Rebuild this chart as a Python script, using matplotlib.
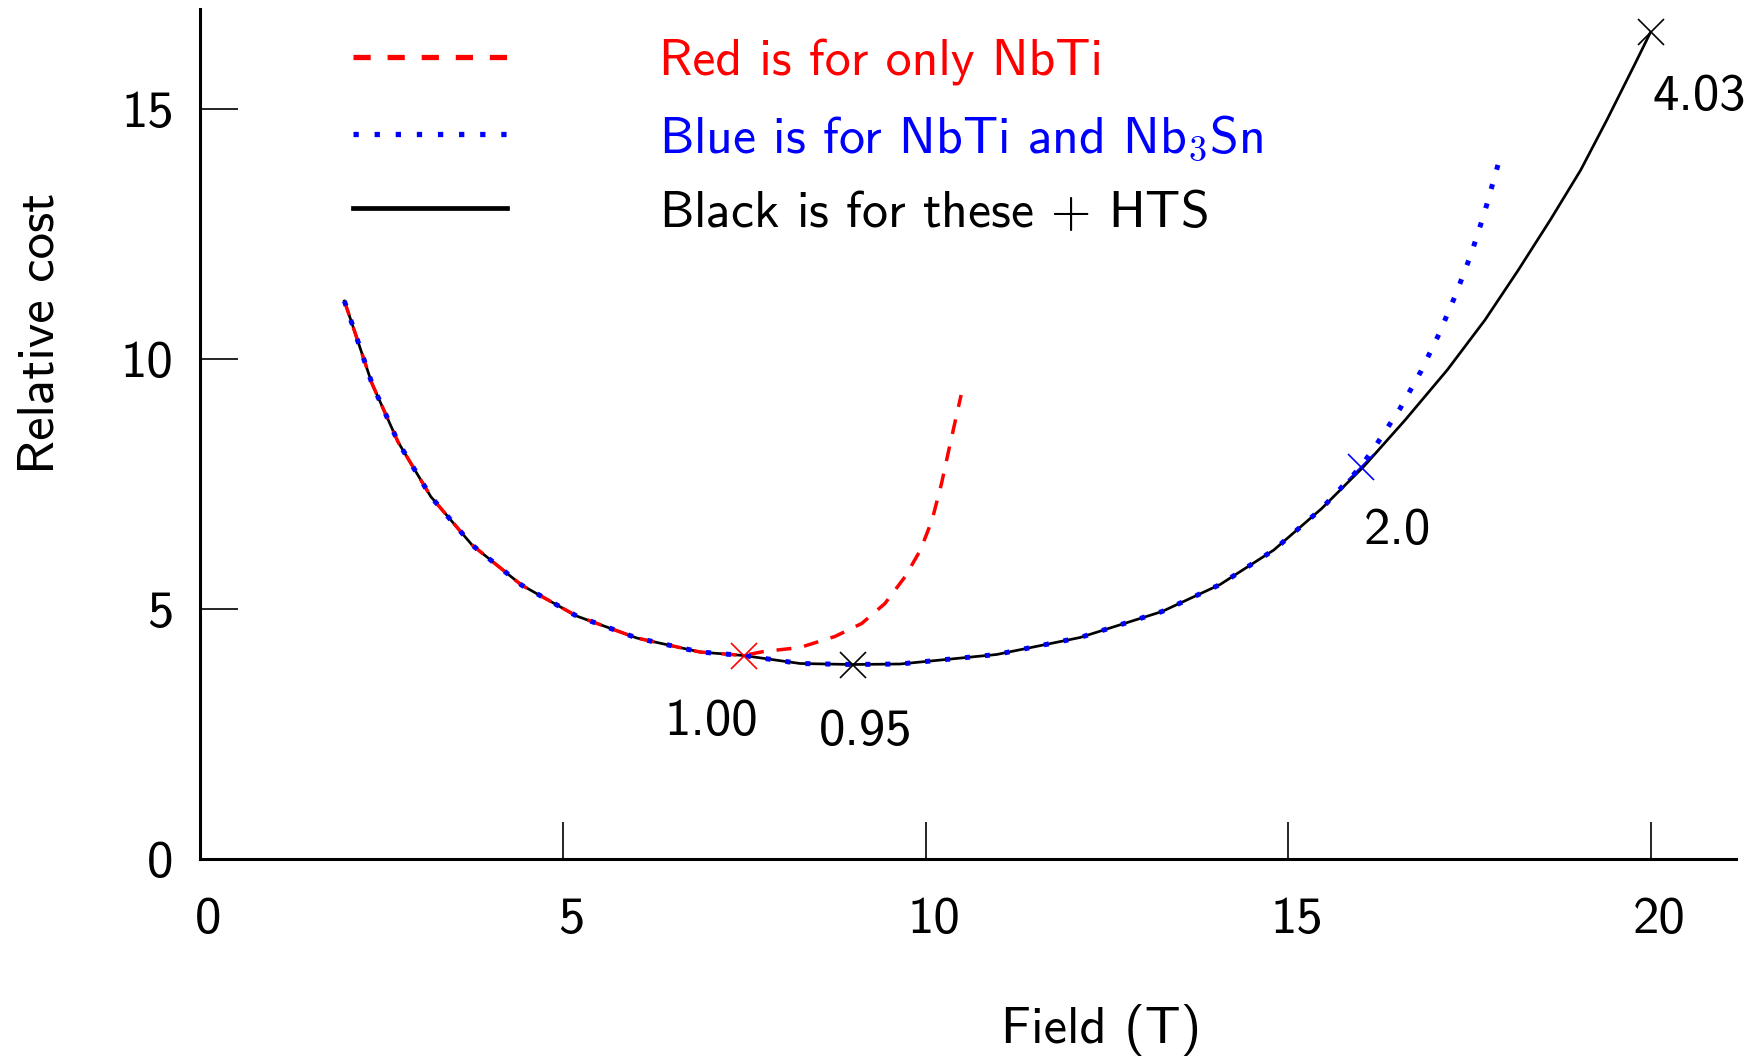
import matplotlib
matplotlib.use('Agg')
import matplotlib.pyplot as plt
import matplotlib.transforms as mtransforms
from matplotlib.lines import Line2D

plt.rcParams['font.family'] = 'cmss10'
plt.rcParams['mathtext.fontset'] = 'cm'
plt.rcParams['axes.unicode_minus'] = False

# values (field in T, relative cost)
black_x = [1.99, 2.09, 2.37, 2.73, 3.18, 3.75, 4.43, 5.19, 6.02, 6.89, 7.49,
           8.27, 8.99, 9.65, 10.98, 12.13, 13.26, 14.06, 14.80, 15.46, 16.04,
           16.61, 17.19, 17.71, 18.17, 18.61, 19.03, 19.39, 19.78, 19.99]
black_y = [11.16, 10.73, 9.51, 8.34, 7.25, 6.28, 5.48, 4.86, 4.42, 4.14, 4.07,
           3.91, 3.89, 3.90, 4.09, 4.43, 4.95, 5.49, 6.18, 7.01, 7.85,
           8.78, 9.78, 10.78, 11.78, 12.78, 13.78, 14.78, 15.91, 16.53]

red_x = [1.99, 2.09, 2.37, 2.73, 3.18, 3.75, 4.43, 5.19, 6.02, 6.89, 7.49,
         7.77, 8.27, 8.75, 9.12, 9.44, 9.72, 9.93, 10.09, 10.22, 10.34, 10.49]
red_y = [11.16, 10.73, 9.51, 8.34, 7.25, 6.28, 5.48, 4.86, 4.42, 4.14, 4.07,
         4.15, 4.23, 4.45, 4.71, 5.11, 5.65, 6.18, 6.78, 7.51, 8.31, 9.28]

blue_x = [1.99, 2.09, 2.37, 2.73, 3.18, 3.75, 4.43, 5.19, 6.02, 6.89, 7.49,
          8.27, 8.99, 9.65, 10.98, 12.13, 13.26, 14.06, 14.80, 15.46, 15.99,
          16.22, 16.54, 16.83, 17.08, 17.31, 17.52, 17.70, 17.86, 17.94]
blue_y = [11.16, 10.73, 9.51, 8.34, 7.25, 6.28, 5.48, 4.86, 4.42, 4.14, 4.07,
          3.91, 3.89, 3.90, 4.09, 4.43, 4.95, 5.49, 6.18, 7.01, 7.83,
          8.30, 9.01, 9.76, 10.51, 11.30, 12.10, 12.91, 13.73, 14.15]

# optimum points and their labels
opt_x = [7.5, 9.0, 16.0, 20.0]
opt_y = [4.07, 3.89, 7.85, 16.55]
opt_colors = ['red', 'black', 'blue', 'black']
opt_text = ['1.00', '0.95', '2.0', '4.03']
text_x = [7.05, 9.18, 16.50, 20.67]
text_y = [2.49, 2.27, 6.30, 14.98]

legend_labels = ['Red is for only NbTi',
                 'Blue is for NbTi and Nb$_3$Sn',
                 'Black is for these $+$ HTS']

x_ticks = [0, 5, 10, 15, 20]
y_ticks = [0, 5, 10, 15]

FS = 38
LEG_FS = 37.3

fig = plt.figure(figsize=(17.58, 10.58), dpi=100)
ax = fig.add_axes([200 / 1758, 199 / 1058, 1536 / 1758, 850 / 1058])

ax.plot(black_x, black_y, color='black', lw=1.95, zorder=2)
ax.plot(red_x, red_y, color='red', lw=2.5, ls=(0, (4.3, 3.7)), zorder=3)
ax.plot(blue_x, blue_y, color='blue', lw=3.6, ls=(0, (1, 3)), zorder=4)

for x, y, c in zip(opt_x, opt_y, opt_colors):
    ax.plot([x], [y], marker='x', ms=19, mew=1.2, color=c, zorder=5)
for x, y, t in zip(text_x, text_y, opt_text):
    ax.text(x, y, t, fontsize=FS, ha='center', va='baseline')

ax.set_xlim(0, 21.17)
ax.set_ylim(0, 17.0)
ax.set_xticks(x_ticks)
ax.set_yticks(y_ticks)
ax.tick_params(direction='in', length=27, width=1.2, labelsize=FS)
ax.tick_params(axis='x', pad=27)
ax.tick_params(axis='y', pad=19)
shift = mtransforms.ScaledTranslation(8 / 100, 0, fig.dpi_scale_trans)
for lab in ax.get_xticklabels():
    lab.set_transform(lab.get_transform() + shift)

for s in ('top', 'right'):
    ax.spines[s].set_visible(False)
ax.spines['left'].set_linewidth(2.2)
ax.spines['bottom'].set_linewidth(2.2)

ax.set_xlabel('Field (T)', fontsize=FS, va='baseline')
ax.xaxis.set_label_coords(0.5866, -0.2165)
ax.set_ylabel('Relative cost', fontsize=FS, va='baseline')
ax.yaxis.set_label_coords(-0.0957, 0.6188)

handles = [Line2D([], [], color='red', lw=3.8, ls=(0, (3.26, 3.2))),
           Line2D([], [], color='blue', lw=3.8, ls=(0, (1, 3))),
           Line2D([], [], color='black', lw=3.4)]
ax.legend(handles, legend_labels, loc='upper left',
          bbox_to_anchor=(353 / 1758, 1 - 39 / 1058),
          bbox_transform=fig.transFigure, frameon=False, fontsize=LEG_FS,
          handlelength=2.97, handletextpad=2.94, labelspacing=0.53,
          borderpad=0, borderaxespad=0,
          labelcolor=['red', 'blue', 'black'])

fig.savefig('out.png', dpi=100)
